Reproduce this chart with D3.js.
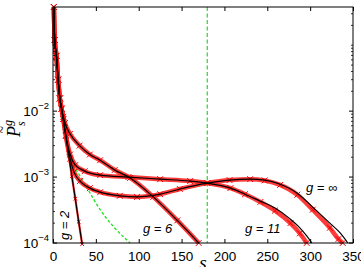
<!DOCTYPE html>
<html>
<head>
<meta charset="utf-8">
<script src="https://cdn.jsdelivr.net/npm/d3@7"></script>
<style>
    body { margin: 0; background: #fff; }
    svg { display: block; font-family: "Liberation Sans", Arial, Helvetica, sans-serif; }
</style>
</head>
<body>
<div id="chart"></div>
<script>

// axis setup
const xTicks = [0, 50, 100, 150, 200, 250, 300, 350]
const yTickExp = [-4, -3, -2]
const xDomain = [0, 350]
const yDomain = [1e-4, 0.38]
const sCut = 180   // vertical dashed line

// g = 2 (simulation and theory coincide)
const sG2 = [1, 2, 4, 6, 8, 10, 12, 14, 18, 22, 26, 30, 34]
const pG2 = [0.38, 0.12, 0.069, 0.030, 0.0156, 0.0109, 0.0074, 0.0050, 0.0023, 0.00103, 0.00047, 0.00021, 0.000096]

// g = 6
const sG6 = [1, 2, 4, 6, 8, 10, 12, 14, 20, 31, 43, 55, 72, 90, 117, 145, 170]
const pG6 = [0.38, 0.12, 0.069, 0.030, 0.0156, 0.0109, 0.0082, 0.0066, 0.0045, 0.0030, 0.0022, 0.0018, 0.00128, 0.00097, 0.00050, 0.00022, 0.0001]

// g = 11, theory (black) and simulation (red)
const sG11 = [1, 2, 4, 6, 8, 10, 12, 15, 20, 26, 37, 55, 88, 125, 160, 180, 207, 224, 242, 259, 277, 288, 296, 302]
const pG11 = [0.38, 0.12, 0.069, 0.030, 0.0156, 0.0109, 0.0076, 0.0043, 0.0022, 0.00152, 0.00123, 0.00107, 0.00100, 0.00093, 0.00087, 0.00081, 0.00068, 0.00055, 0.00043, 0.00034, 0.00023, 0.00017, 0.000128, 0.0001]
const sG11sim = [1, 2, 4, 6, 8, 10, 12, 15, 20, 26, 37, 55, 88, 125, 160, 180, 207, 224, 242, 259, 277, 288, 296]
const pG11sim = [0.38, 0.12, 0.069, 0.030, 0.0156, 0.0109, 0.0076, 0.0043, 0.0022, 0.00152, 0.00123, 0.00107, 0.00100, 0.00093, 0.00087, 0.00081, 0.00068, 0.00055, 0.00042, 0.00031, 0.00020, 0.00014, 0.0001]

// g = infinity
const sGinf = [1, 2, 4, 6, 8, 10, 12, 15, 20, 24.5, 31.5, 43, 55, 78, 98, 125, 148, 180, 206, 230, 247, 265, 285, 303, 323, 335, 344]
const pGinf = [0.38, 0.12, 0.069, 0.030, 0.0156, 0.0109, 0.0076, 0.0042, 0.0019, 0.00119, 0.00087, 0.00068, 0.00059, 0.00052, 0.00050, 0.00055, 0.00066, 0.00081, 0.00090, 0.00093, 0.00090, 0.00078, 0.00057, 0.00035, 0.00020, 0.000142, 0.0001]
const sGinfSim = [1, 2, 4, 6, 8, 10, 12, 15, 20, 24.5, 31.5, 43, 55, 78, 98, 125, 148, 180, 206, 230, 247, 265, 285, 303, 323, 333, 338]
const pGinfSim = [0.38, 0.12, 0.069, 0.030, 0.0156, 0.0109, 0.0076, 0.0042, 0.0019, 0.00119, 0.00087, 0.00068, 0.00059, 0.00052, 0.00050, 0.00055, 0.00066, 0.00081, 0.00090, 0.00093, 0.00089, 0.00076, 0.00054, 0.00032, 0.00017, 0.000115, 0.0001]

// green dashed reference curve
const sRef = [1, 2, 4, 6, 8, 10, 12, 15, 22, 28, 41, 55, 72, 90]
const pRef = [0.38, 0.12, 0.069, 0.030, 0.0156, 0.0109, 0.0076, 0.0042, 0.00163, 0.00123, 0.00064, 0.00032, 0.000169, 0.0001]

const zip = (s, p) => s.map((d, i) => ({s: d, p: p[i]}))

const width = 361, height = 267
const margin = {top: 7, right: 8, bottom: 24, left: 53}

const svg = d3.select('#chart').append('svg')
    .attr('width', width)
    .attr('height', height)

const x = d3.scaleLinear()
    .domain(xDomain)
    .range([margin.left, width - margin.right])

const y = d3.scaleLog()
    .domain(yDomain)
    .range([height - margin.bottom, margin.top])

const x0 = x.range()[0], x1 = x.range()[1]
const y0 = y.range()[0], y1 = y.range()[1]

const line = d3.line()
    .x(d => x(d.s))
    .y(d => y(d.p))
    .curve(d3.curveMonotoneX)

const plot = svg.append('g')

// green reference curves go underneath
plot.append('path')
    .datum(zip(sRef, pRef))
    .attr('d', line)
    .attr('fill', 'none')
    .attr('stroke', '#1ee01e')
    .attr('stroke-width', 1.3)
    .attr('stroke-dasharray', '3,2')

plot.append('line')
    .attr('x1', x(sCut)).attr('x2', x(sCut))
    .attr('y1', y1).attr('y2', y0)
    .attr('stroke', '#1ee01e')
    .attr('stroke-width', 1.2)
    .attr('stroke-dasharray', '4,2.5')

// simulation: red band with x markers
const simSeries = [
    {data: zip(sGinfSim, pGinfSim), w: 4.5},
    {data: zip(sG11sim, pG11sim), w: 4.5},
    {data: zip(sG6, pG6), w: 4.5},
    {data: zip(sG2, pG2), w: 2.2}
]

simSeries.forEach(ser => {
    plot.append('path')
        .datum(ser.data)
        .attr('d', line)
        .attr('fill', 'none')
        .attr('stroke', '#ff1a1a')
        .attr('stroke-opacity', 0.85)
        .attr('stroke-width', ser.w)

    plot.selectAll(null)
        .data(ser.data)
        .enter()
        .append('path')
        .attr('d', d3.symbol(d3.symbolTimes, ser.w > 3 ? 24 : 10))
        .attr('transform', d => `translate(${x(d.s)},${y(d.p)})`)
        .attr('fill', 'none')
        .attr('stroke', '#ee0000')
        .attr('stroke-width', 1)
})

// theory: black lines
const theory = [zip(sGinf, pGinf), zip(sG11, pG11), zip(sG6, pG6), zip(sG2, pG2)]
theory.forEach(t => {
    plot.append('path')
        .datum(t)
        .attr('d', line)
        .attr('fill', 'none')
        .attr('stroke', '#000')
        .attr('stroke-width', 1.2)
})

// frame
svg.append('rect')
    .attr('x', x0).attr('y', y1)
    .attr('width', x1 - x0).attr('height', y0 - y1)
    .attr('fill', 'none')
    .attr('stroke', '#000')
    .attr('stroke-width', 1)

// x axes (ticks inside)
const xAxis = svg.append('g')
    .attr('transform', `translate(0,${y0})`)
    .call(d3.axisBottom(x).tickValues(xTicks).tickSize(-4).tickPadding(8).tickFormat(d3.format('d')))
xAxis.select('.domain').remove()
xAxis.selectAll('text').attr('font-size', 13.5).attr('fill', '#000')
    .attr('font-family', '"Liberation Sans", Arial, sans-serif')

const xTop = svg.append('g')
    .attr('transform', `translate(0,${y1})`)
    .call(d3.axisTop(x).tickValues(xTicks).tickSize(-4).tickFormat(''))
xTop.select('.domain').remove()

// y ticks: minor everywhere, major at labelled decades
const yMajor = yTickExp.map(e => Math.pow(10, e))
const yMinor = y.ticks().filter(v => !yMajor.some(m => Math.abs(m - v) / m < 1e-6))

const yTicks = svg.append('g').attr('class', 'y-ticks')
;[[x0, 1], [x1, -1]].forEach(([xp, dir]) => {
    yTicks.selectAll(null).data(yMinor).enter().append('line')
        .attr('x1', xp).attr('x2', xp + dir * 2)
        .attr('y1', d => y(d)).attr('y2', d => y(d))
        .attr('stroke', '#000').attr('stroke-width', 0.8)
    yTicks.selectAll(null).data(yMajor).enter().append('line')
        .attr('x1', xp).attr('x2', xp + dir * 4)
        .attr('y1', d => y(d)).attr('y2', d => y(d))
        .attr('stroke', '#000').attr('stroke-width', 1)
})

// y tick labels 10^e
const yLab = svg.append('g').selectAll('text')
    .data(yTickExp)
    .enter()
    .append('text')
    .attr('x', x0 - 4)
    .attr('y', d => y(Math.pow(10, d)) + 5)
    .attr('text-anchor', 'end')
    .attr('font-size', 13.5)
yLab.append('tspan').text('10')
yLab.append('tspan')
    .attr('dy', -7)
    .attr('font-size', 9.5)
    .text(d => '\u2212' + Math.abs(d))

// axis titles
const yTitle = svg.append('g')
    .attr('transform', `translate(20,${(y0 + y1) / 2}) rotate(-90)`)
    .attr('font-family', '"Liberation Serif", "DejaVu Serif", serif')
    .attr('font-style', 'italic')
yTitle.append('text')
    .attr('x', -5).attr('y', -13)
    .attr('text-anchor', 'middle')
    .attr('font-size', 14)
    .text('~')
const yt = yTitle.append('text')
    .attr('x', -12).attr('y', 0)
    .attr('font-size', 18)
yt.append('tspan').text('P')
yt.append('tspan').attr('dy', -8).attr('font-size', 12).text('g')
yt.append('tspan').attr('dx', -6).attr('dy', 13).attr('font-size', 12).text('s')

svg.append('text')
    .attr('x', (x0 + x1) / 2)
    .attr('y', 269)
    .attr('text-anchor', 'middle')
    .attr('font-family', '"Liberation Serif", "DejaVu Serif", serif')
    .attr('font-style', 'italic')
    .attr('font-size', 19)
    .text('s')

// curve annotations
const ann = svg.append('g')
    .attr('font-style', 'italic')
    .attr('font-size', 13)
ann.append('text').attr('x', 143).attr('y', 233).text('g = 6')
ann.append('text').attr('x', 245).attr('y', 233).text('g = 11')
ann.append('text').attr('x', 306).attr('y', 192).text('g = \u221e')
ann.append('text')
    .attr('transform', 'translate(69,240) rotate(-90)')
    .text('g = 2')

</script>
</body>
</html>
